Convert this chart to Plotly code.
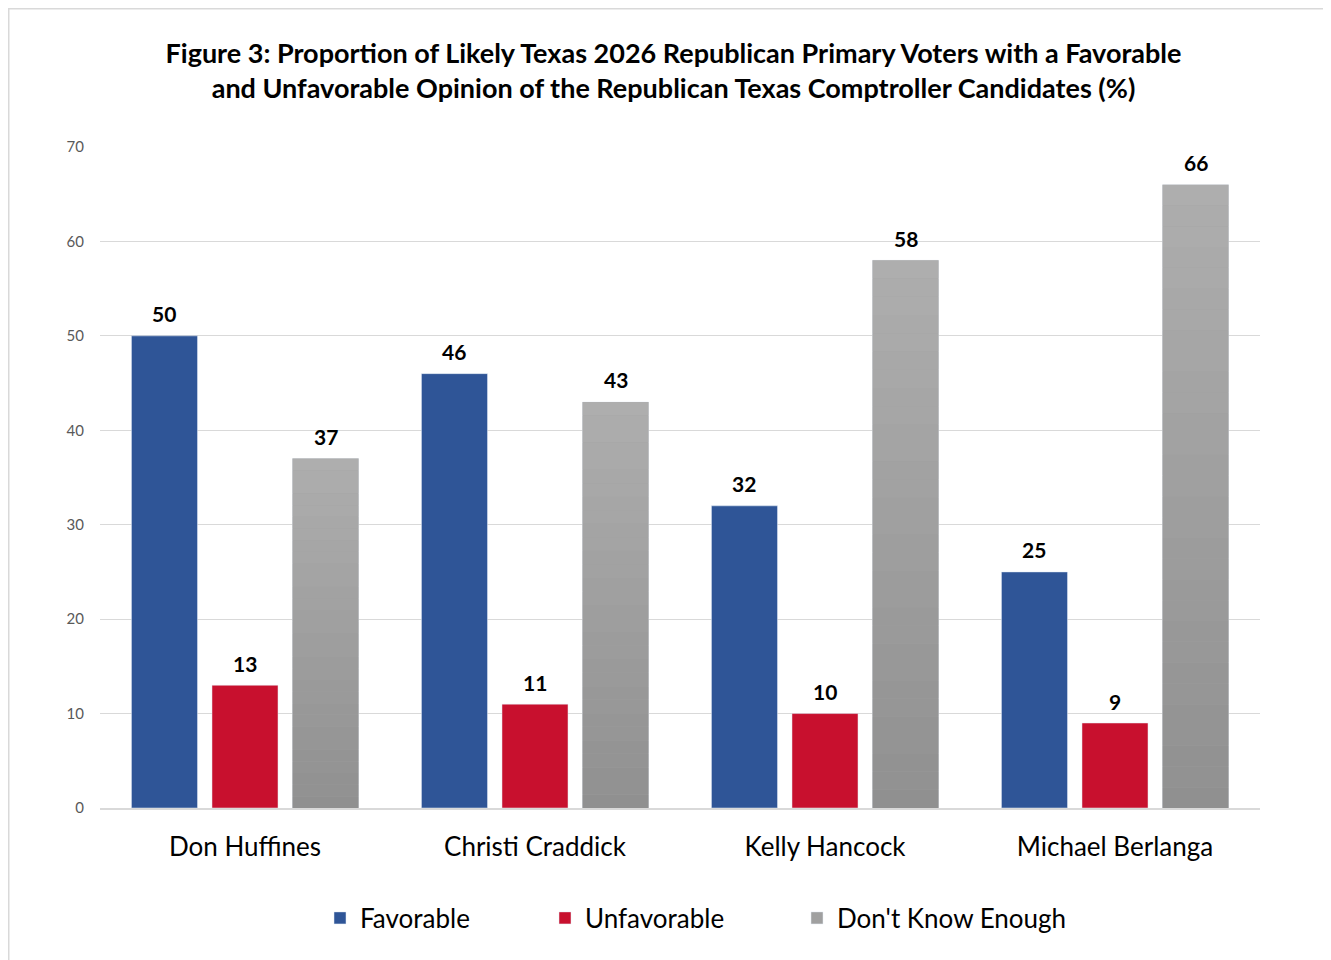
import plotly.graph_objects as go

categories = ["Don Huffines", "Christi Craddick", "Kelly Hancock", "Michael Berlanga"]
favorable = [50, 46, 32, 25]
unfavorable = [13, 11, 10, 9]
dont_know = [37, 43, 58, 66]
y_ticks = [0, 10, 20, 30, 40, 50, 60, 70]

FONT = "Lato"
BLUE = "#2F5597"
RED = "#C8102E"

BARGAP = 0.167
BARGROUPGAP = 0.18
PLOT_W = 1160
SLOT_PX = PLOT_W / len(categories) * (1 - BARGAP) / 3

fig = go.Figure()

fig.add_trace(go.Bar(name="Favorable", x=categories, y=favorable, marker_color=BLUE,
                     offsetgroup="a", legend="legend"))
fig.add_trace(go.Bar(name="Unfavorable", x=categories, y=unfavorable, marker_color=RED,
                     offsetgroup="b", legend="legend2"))
fig.add_trace(go.Bar(name="Don't Know Enough", x=categories, y=dont_know, marker_color="#A0A0A0",
                     offsetgroup="c", legend="legend3"))

# vertical gradient for the grey bars (light top -> dark bottom)
N = 30
top_c, bot_c = 174, 144
for i in range(N):
    frac = (i + 0.5) / N
    c = round(bot_c + (top_c - bot_c) * frac)
    fig.add_trace(go.Bar(x=categories, y=[v / N for v in dont_know],
                         base=[v * i / N for v in dont_know],
                         marker=dict(color=f"rgb({c},{c},{c})", line=dict(width=0)),
                         offsetgroup="c", showlegend=False, hoverinfo="skip"))

# value labels above bars
annotations = []
for k, series in enumerate([favorable, unfavorable, dont_know]):
    for cat, v in zip(categories, series):
        annotations.append(dict(x=cat, y=v, xref="x", yref="y", text=f"<b>{v}</b>",
                                showarrow=False, xshift=(k - 1) * SLOT_PX, yshift=22,
                                yanchor="middle", xanchor="center",
                                font=dict(family=FONT, size=21, color="#000000")))

leg_font = dict(family=FONT, size=26, color="#000000")
leg_y = (800 - 910) / 661


def leg(xpix):
    return dict(orientation="h", x=(xpix - 100) / 1160, xanchor="left", y=leg_y, yanchor="middle",
                font=leg_font, itemwidth=30, bgcolor="rgba(0,0,0,0)")


fig.update_layout(
    width=1331, height=960,
    paper_bgcolor="white", plot_bgcolor="white",
    barmode="group", bargap=BARGAP, bargroupgap=BARGROUPGAP,
    margin=dict(l=92, r=79, t=139, b=160),
    title=dict(text="<b>Figure 3: Proportion of Likely Texas 2026 Republican Primary Voters with a Favorable<br>and Unfavorable Opinion of the Republican Texas Comptroller Candidates (%)</b>",
               x=0.5, xanchor="center", y=1 - 55 / 960, yanchor="middle",
               font=dict(family=FONT, size=27, color="#000000")),
    font=dict(family=FONT),
    legend=leg(320),
    legend2=leg(545),
    legend3=leg(797),
    annotations=annotations,
    xaxis=dict(showline=True, linecolor="#D9D9D9", linewidth=1.5, ticks="",
               tickfont=dict(family=FONT, size=26, color="#000000"), ticklabelstandoff=15),
    yaxis=dict(range=[0, 70], tickvals=y_ticks, showgrid=True, gridcolor="#D9D9D9", gridwidth=1,
               zeroline=False, tickfont=dict(family=FONT, size=15, color="#595959"),
               ticklabelstandoff=15),
    shapes=[dict(type="rect", xref="paper", yref="paper",
                 x0=(0.75 - 92) / 1160, x1=(1322 - 92) / 1160,
                 y0=(160 - 1000) / 661, y1=(960 - 160 - 0.75) / 661,
                 line=dict(color="#D9D9D9", width=1.5), fillcolor="rgba(0,0,0,0)", layer="below")],
)

fig.write_html("out.html")
